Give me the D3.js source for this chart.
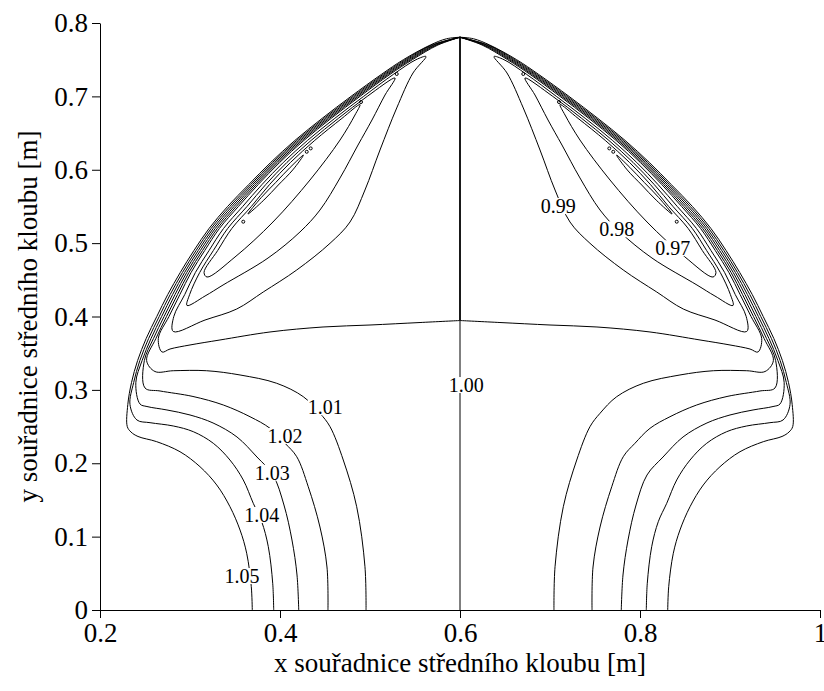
<!DOCTYPE html>
<html>
<head>
<meta charset="utf-8">
<script src="https://cdn.jsdelivr.net/npm/d3@7"></script>
<style>
  body { margin: 0; background: #fff; }
  svg { display: block; }
  text { font-family: "Liberation Serif", "Times New Roman", serif; fill: #000; }
</style>
</head>
<body>
<svg id="chart" width="824" height="691"></svg>
<script>
// axes
const xTicks = [0.2, 0.4, 0.6, 0.8, 1];
const yTicks = [0, 0.1, 0.2, 0.3, 0.4, 0.5, 0.6, 0.7, 0.8];
const xTitle = "x souřadnice středního kloubu [m]";
const yTitle = "y souřadnice středního kloubu [m]";

// the field is mirror-symmetric about x = 0.6, the left half is read off
// and the right half is drawn through a mirrored x scale

// rim of the workspace: the contours crowd along it (outermost = 1.05)
const rimY = [0.25, 0.28, 0.31, 0.34, 0.37, 0.40, 0.43, 0.46, 0.49, 0.52,
              0.55, 0.58, 0.61, 0.64, 0.67, 0.70, 0.73, 0.75, 0.77];
const rimX = [0.2303, 0.2309, 0.2350, 0.2418, 0.2513, 0.2631, 0.2753, 0.2892, 0.3044, 0.3212,
              0.3418, 0.3654, 0.3897, 0.4166, 0.4468, 0.4789, 0.5127, 0.5371, 0.5670];
// spacing between neighbouring levels inside the crowded rim
const rimStep = [0.0024, 0.0024, 0.0024, 0.0025, 0.0027, 0.0027, 0.0027, 0.0024, 0.0024, 0.0023,
                 0.0024, 0.0021, 0.0020, 0.0020, 0.0020, 0.0020, 0.0019, 0.0020, 0.0017];
// how many steps in from the rim each level runs: 1.05 ... 1.00, then 0.99, 0.98, 0.97
const rimLevels = [1.05, 1.04, 1.03, 1.02, 1.01, 1.00, 0.99, 0.98, 0.97];
const rimDepth = [0, 1, 2, 3, 4, 5, 7, 9, 11];
const apex = [0.6, 0.7806];
// rounded cap of the rim next to the apex
const capLeft = [0.5850, 0.7785];

// open arms, from the bottom (or the centre) to where they join the rim
const arm105 = [[0.3692, 0], [0.3681, 0.0318], [0.3630, 0.0773], [0.3556, 0.1090], [0.3444, 0.1408],
  [0.3297, 0.1704], [0.3111, 0.1953], [0.2889, 0.2157], [0.2630, 0.2294], [0.2422, 0.2365], [0.2344, 0.2426]];
const arm104 = [[0.3930, 0], [0.3919, 0.0364], [0.3870, 0.0863], [0.3797, 0.1203], [0.3703, 0.1454],
  [0.3592, 0.1772], [0.3444, 0.2044], [0.3259, 0.2272], [0.3037, 0.2430], [0.2814, 0.2508],
  [0.2556, 0.2553], [0.2411, 0.2589]];
const arm103 = [[0.4208, 0], [0.4189, 0.0477], [0.4133, 0.0954], [0.4044, 0.1431], [0.3922, 0.1840],
  [0.3744, 0.2085], [0.3522, 0.2358], [0.3256, 0.2549], [0.3000, 0.2658], [0.2744, 0.2726],
  [0.2522, 0.2773], [0.2444, 0.2808]];
const arm102 = [[0.4533, 0], [0.4522, 0.0586], [0.4444, 0.1131], [0.4314, 0.1680], [0.4186, 0.2089],
  [0.4056, 0.2272], [0.3889, 0.2476], [0.3667, 0.2634], [0.3370, 0.2794], [0.3033, 0.2910],
  [0.2667, 0.2985], [0.2500, 0.3026]];
const arm101 = [[0.4956, 0], [0.4944, 0.0590], [0.4852, 0.1408], [0.4703, 0.2044], [0.4556, 0.2498],
  [0.4444, 0.2681], [0.4259, 0.2907], [0.3963, 0.3090], [0.3556, 0.3203], [0.3185, 0.3261],
  [0.2814, 0.3261], [0.2611, 0.3250]];
const arm100 = [[0.6, 0.3945], [0.5556, 0.3918], [0.5, 0.3884], [0.4478, 0.3857], [0.3889, 0.3789],
  [0.3333, 0.3680], [0.3000, 0.3612], [0.2778, 0.3557], [0.2689, 0.3516]];

// lobes below 1: inner edge from the lower tip to the upper tip
const lobe099 = [[0.2814, 0.3796], [0.3167, 0.3952], [0.3519, 0.4102], [0.3814, 0.4334], [0.4186, 0.4634],
  [0.4556, 0.4998], [0.4778, 0.5288], [0.4944, 0.5724], [0.5111, 0.6269], [0.5297, 0.6842],
  [0.5478, 0.7319], [0.5622, 0.7543]];
const lobe098 = [[0.2967, 0.4150], [0.3167, 0.4279], [0.3367, 0.4429], [0.3867, 0.4797], [0.4222, 0.5152],
  [0.4444, 0.5451], [0.4667, 0.5888], [0.4867, 0.6337], [0.5022, 0.6678], [0.5167, 0.7019], [0.5278, 0.7250]];
const lobe097 = [[0.3189, 0.4538], [0.3500, 0.4811], [0.3922, 0.5288], [0.4333, 0.5860], [0.4667, 0.6405],
  [0.4833, 0.6746], [0.4889, 0.6889]];
const lobe096 = [[0.3644, 0.5397], [0.3820, 0.5586], [0.3981, 0.5792], [0.4142, 0.5998], [0.4260, 0.6200],
  [0.4113, 0.6032], [0.3952, 0.5826], [0.3791, 0.5620]];

// tiny closed islands
const islands = [[0.3592, 0.5292], [0.4297, 0.6245], [0.4341, 0.6291], [0.4900, 0.6923], [0.5297, 0.7305]];

// the 1.00 level also runs straight up the middle
const ridgeLow = [[0.6, 0], [0.6, 0.3945]];
const ridgeHigh = [[0.6, 0.3945], apex];

// contour labels
const labelText = ["1.05", "1.04", "1.03", "1.02", "1.01", "1.00", "0.99", "0.98", "0.97"];
const labelX = [0.3578, 0.3797, 0.3914, 0.4056, 0.4503, 0.6070, 0.7092, 0.7741, 0.8363];
const labelY = [0.0463, 0.1295, 0.1871, 0.2371, 0.2763, 0.3066, 0.5506, 0.5188, 0.4930];

const svg = d3.select("#chart");

const x = d3.scaleLinear().domain([0.2, 1]).range([100, 820]);
const xMirror = d3.scaleLinear().domain([0.2, 1]).range([820, 100]);
const y = d3.scaleLinear().domain([0, 0.8]).range([610, 23]);

// the part of a level that runs along the rim
function band(level, from, to) {
  const k = rimDepth[rimLevels.indexOf(level)];
  return rimY.map((v, i) => [rimX[i] + k * rimStep[i], v])
    .filter(p => p[1] >= from - 1e-6 && p[1] <= to + 1e-6);
}

const openLines = [
  arm105.concat(band(1.05, 0.25, 0.77), [capLeft, apex]),
  arm104.concat(band(1.04, 0.28, 0.77), [apex]),
  arm103.concat(band(1.03, 0.31, 0.77), [apex]),
  arm102.concat(band(1.02, 0.34, 0.77), [apex]),
  arm101.concat(band(1.01, 0.34, 0.77), [apex]),
  arm100.concat(band(1.00, 0.37, 0.77), [apex])
];
const closedLines = [
  lobe099.concat(band(0.99, 0.40, 0.75).reverse()),
  lobe098.concat(band(0.98, 0.43, 0.70).reverse()),
  lobe097.concat(band(0.97, 0.46, 0.67).reverse()),
  lobe096
];

const plot = svg.append("g").attr("class", "contours")
  .attr("fill", "none").attr("stroke", "#000").attr("stroke-width", 1);

[x, xMirror].forEach(sx => {
  const open = d3.line().x(d => sx(d[0])).y(d => y(d[1])).curve(d3.curveCatmullRom.alpha(0.5));
  const closed = d3.line().x(d => sx(d[0])).y(d => y(d[1])).curve(d3.curveCatmullRomClosed.alpha(0.5));

  plot.selectAll(null).data(openLines).enter()
    .append("path").attr("d", open);
  plot.selectAll(null).data(closedLines).enter()
    .append("path").attr("d", closed);
  plot.selectAll(null).data(islands).enter()
    .append("circle")
    .attr("cx", d => sx(d[0]))
    .attr("cy", d => y(d[1]))
    .attr("r", 1.5);
});

const straight = d3.line().x(d => x(d[0])).y(d => y(d[1]));
plot.append("path").attr("d", straight(ridgeLow));
plot.append("path").attr("d", straight(ridgeHigh)).attr("stroke-width", 1.8);

// labels cut the lines
const lab = svg.append("g").attr("class", "labels");
labelText.forEach((t, i) => {
  const g = lab.append("g");
  const txt = g.append("text")
    .attr("x", x(labelX[i]))
    .attr("y", y(labelY[i]))
    .attr("text-anchor", "middle")
    .attr("dominant-baseline", "central")
    .attr("font-size", 20)
    .text(t);
  const bb = txt.node().getBBox();
  g.insert("rect", "text")
    .attr("x", bb.x)
    .attr("y", bb.y + 3)
    .attr("width", bb.width)
    .attr("height", bb.height - 6)
    .attr("fill", "#fff");
});

// axes
const xAxis = d3.axisBottom(x).tickValues(xTicks).tickFormat(d3.format("~g"))
  .tickSize(8).tickSizeOuter(0).tickPadding(5);
const yAxis = d3.axisLeft(y).tickValues(yTicks).tickFormat(d3.format("~g"))
  .tickSize(8).tickSizeOuter(0).tickPadding(4);

svg.append("g")
  .attr("transform", `translate(0,${y(0)})`)
  .call(xAxis)
  .call(g => g.selectAll("text").attr("font-size", 27).attr("font-family", "Liberation Serif").attr("fill", "#000"))
  .call(g => g.selectAll("line, .domain").attr("stroke", "#000"));

svg.append("g")
  .attr("transform", `translate(${x(0.2)},0)`)
  .call(yAxis)
  .call(g => g.selectAll("text").attr("font-size", 27).attr("font-family", "Liberation Serif").attr("fill", "#000"))
  .call(g => g.selectAll("line, .domain").attr("stroke", "#000"));

svg.append("text")
  .attr("x", (x(0.2) + x(1)) / 2)
  .attr("y", 672)
  .attr("text-anchor", "middle")
  .attr("font-size", 27)
  .text(xTitle);

svg.append("text")
  .attr("transform", `translate(37,${(y(0) + y(0.8)) / 2}) rotate(-90)`)
  .attr("text-anchor", "middle")
  .attr("font-size", 27)
  .text(yTitle);
</script>
</body>
</html>
